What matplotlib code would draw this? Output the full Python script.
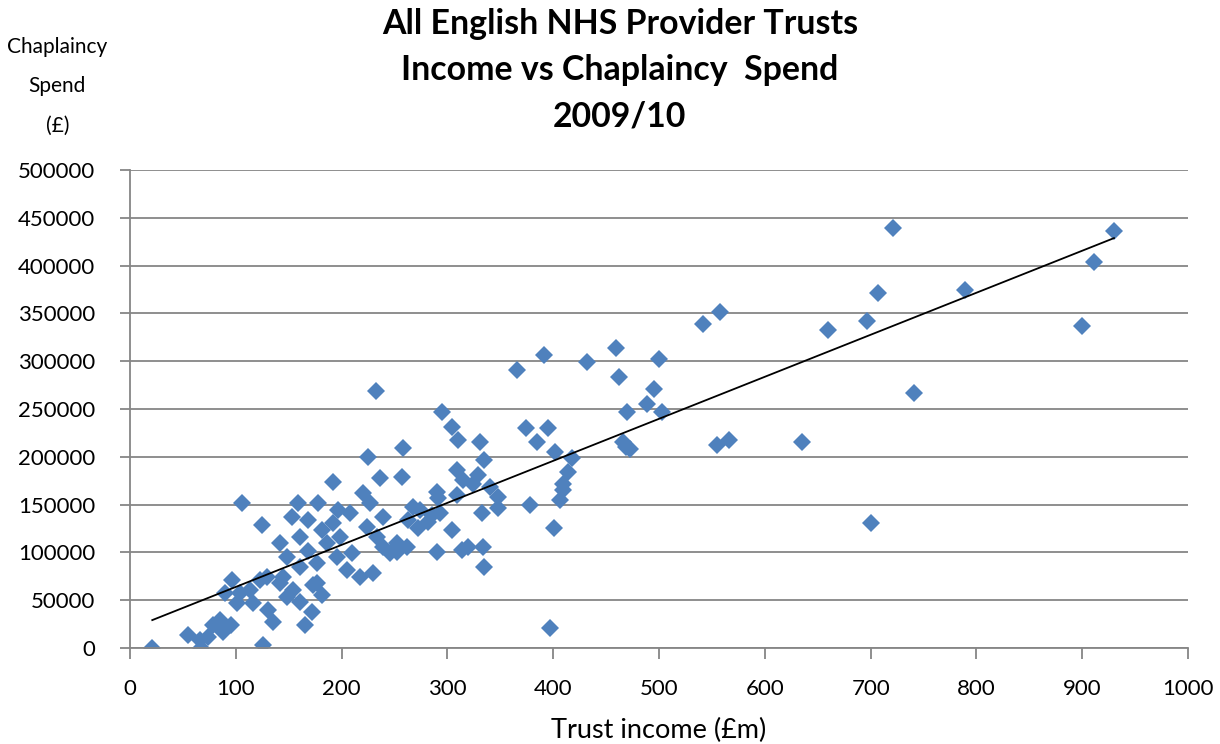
import numpy as np
import matplotlib
matplotlib.use('Agg')
import matplotlib.pyplot as plt

plt.rcParams['font.family'] = ['Lato', 'DejaVu Sans']

# trust income (GBP m) and chaplaincy spend (GBP)
income = [
    21, 55, 66, 67, 74, 78, 85, 88, 95, 90, 96, 101, 104, 116, 123, 113, 126, 130, 135,
    142, 148, 154, 161, 165, 172, 173, 181, 106,
    192, 236, 257, 125, 159, 153, 178, 168, 142, 148, 161, 168, 181, 186, 197, 208, 192,
    198, 220, 227, 239, 224, 233, 210, 196, 177, 161, 205, 217, 230, 246, 252, 177, 145, 129,
    304, 310, 331, 335, 258, 309, 315, 329, 324, 340, 348, 290, 291, 309, 267, 274, 285,
    293, 263, 272, 282, 304, 333, 348, 239, 252, 262, 290, 314, 319, 334, 335, 225, 232, 295,
    366, 374, 378, 385, 391, 395, 397, 402, 401, 406, 409, 409, 414, 418,
    432, 459, 462, 466, 469, 470, 473, 489, 495, 500, 503,
    542, 555, 558, 566, 635, 660, 697, 700, 707, 721, 741, 789, 900, 911, 930,
]
spend = [
    0, 13600, 8400, 0, 11500, 24000, 29300, 16700, 24000, 57500, 71000, 47000, 57500, 47000,
    71000, 60700, 3000, 40000, 27000, 68000, 53000, 61000, 48000, 24000, 37600, 66000, 55000,
    152000,
    174000, 178000, 179000, 129000, 152000, 137000, 152000, 134000, 110000, 95000, 116000,
    102000, 123000, 110000, 144000, 141000, 131000, 116000, 162000, 152000, 137000, 127000,
    116000, 99000, 95000, 89000, 85000, 82000, 74000, 78000, 99000, 110000, 68000, 74000, 74000,
    231000, 218000, 215000, 197000, 209000, 186000, 176000, 181000, 172000, 168000, 158000,
    163000, 157000, 160000, 147000, 144000, 139000, 141000, 134000, 126000, 132000, 123000,
    141000, 146000, 106000, 100000, 106000, 100000, 102500, 106000, 106000, 85000, 200000,
    269000, 247000,
    291000, 230000, 150000, 216000, 307000, 230000, 21000, 205000, 126000, 155000, 172000,
    165000, 184000, 199000,
    299000, 314000, 283000, 215000, 210000, 247000, 208000, 255000, 271000, 302000, 247000,
    339000, 212000, 351000, 218000, 215000, 333000, 342000, 131000, 371000, 439000, 267000,
    375000, 337000, 404000, 436000,
]

x_ticks = list(range(0, 1001, 100))
y_ticks = list(range(0, 500001, 50000))

fig = plt.figure(figsize=(12.2, 7.44), dpi=100)
ax = fig.add_axes([0.1066, 0.129, 0.8672, 0.6425])

grey = '#868686'
ax.set_axisbelow(True)
ax.grid(axis='y', color=grey, linewidth=1.3)
ax.plot(income, spend, linestyle='none', marker='D', markersize=9.5,
        color='#4F81BD', markeredgewidth=0)

# linear trend line
k, b = np.polyfit(income, spend, 1)
xs = np.array([min(income), max(income)])
ax.plot(xs, k * xs + b, color='black', linewidth=1.3)

ax.set_xlim(0, 1000)
ax.set_ylim(0, 500000)
ax.set_xticks(x_ticks)
ax.set_yticks(y_ticks)
ax.set_yticklabels([str(v) for v in y_ticks])
for s in ['top', 'right']:
    ax.spines[s].set_visible(False)
for s in ['left', 'bottom']:
    ax.spines[s].set_color(grey)
    ax.spines[s].set_linewidth(1.3)
ax.tick_params(axis='both', colors=grey, labelcolor='black', labelsize=16, width=1.3)
ax.tick_params(axis='x', length=8, pad=14)
ax.tick_params(axis='y', length=7, pad=18)

ax.set_xlabel('Trust income (£m)', fontsize=19.5, va='center')
ax.xaxis.set_label_coords(0.5, -0.1715)
fig.text(0.047, 0.884, 'Chaplaincy\nSpend\n(£)', ha='center', va='center',
         fontsize=15, linespacing=2.2)
fig.text(0.508, 0.906, 'All English NHS Provider Trusts\nIncome vs Chaplaincy  Spend\n2009/10',
         ha='center', va='center', fontsize=24.4, fontweight='bold', linespacing=1.55)

fig.savefig('out.png', dpi=100)
